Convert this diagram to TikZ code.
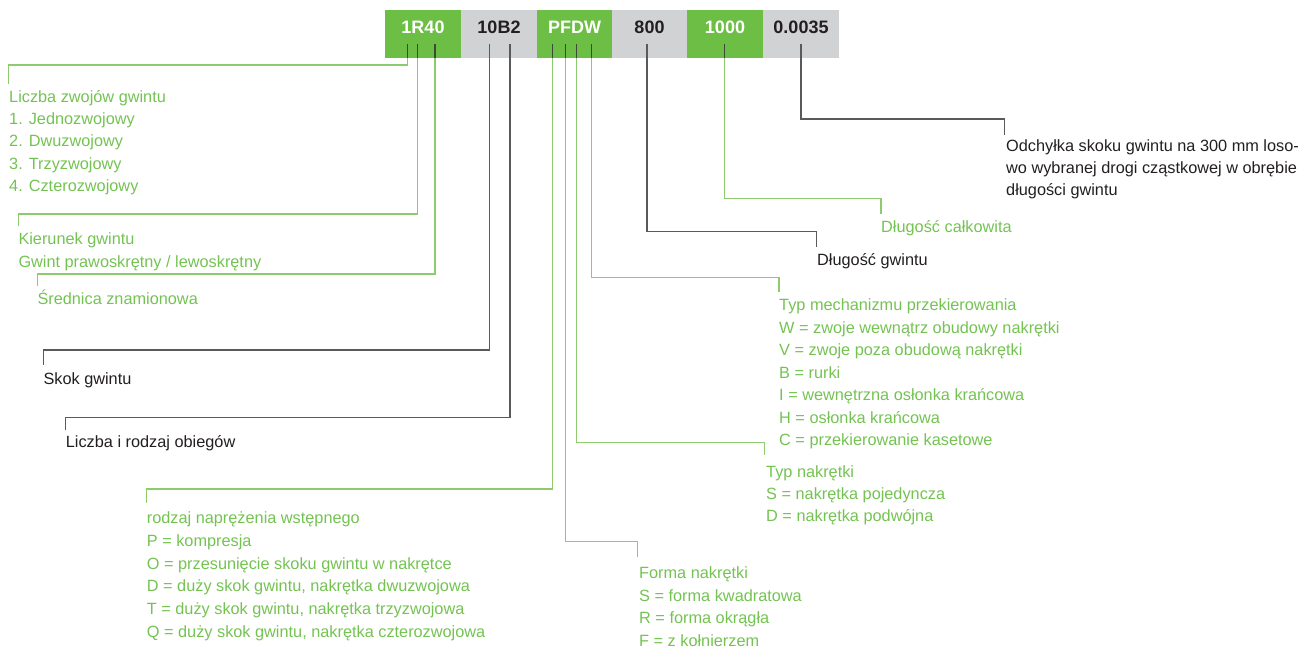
\documentclass[tikz,border=0pt]{standalone}
\usepackage{fontspec}
\setmainfont{Liberation Sans}
\definecolor{boxgreen}{HTML}{6CBE45}
\definecolor{boxgray}{HTML}{D1D2D4}
\definecolor{txtgreen}{HTML}{74C352}
\definecolor{linegreen}{HTML}{8DCB6E}
\definecolor{txtdark}{HTML}{231F20}
\definecolor{linegray}{HTML}{5A5A5A}
\definecolor{tickdark}{HTML}{3A4A35}
\newcommand\labellines[6]{%
  \foreach \t [count=\i] in {#6} {\node[#1] (#2-\i) at (#3, {#4+(\i-1)*#5}) {\t};}}
\begin{document}
\begin{tikzpicture}[x=1pt,y=-1pt,
  hbox/.style={rectangle, inner sep=0pt, minimum width=76pt, text height=23pt, text depth=25pt, anchor=north, font=\fontsize{18}{18}\selectfont\bfseries},
  gbox/.style={hbox, fill=boxgreen, text=white},
  ybox/.style={hbox, fill=boxgray, text=txtdark},
  lbl/.style={inner sep=0pt, anchor=base west, font=\fontsize{16.3}{16.3}\selectfont},
  glbl/.style={lbl, text=txtgreen},
  dlbl/.style={lbl, text=txtdark},
  gline/.style={draw=linegreen, line width=1.3pt},
  dline/.style={draw=linegray, line width=1.3pt},
  inbox/.style={draw=tickdark, line width=1.3pt}]
\useasboundingbox (0,0) rectangle (1311,647);

% header boxes
\node[gbox] (b1) at (423,10) {1R40};
\node[ybox] (b2) at (499,10) {10B2};
\node[gbox] (b3) at (574.5,10) {PFDW};
\node[ybox] (b4) at (649.5,10) {800};
\node[gbox] (b5) at (725,10) {1000};
\node[ybox] (b6) at (801,10) {0.0035};

% tick start points
\coordinate (t1) at (407.5,44);
\coordinate (t2) at (417.3,44);
\coordinate (t3) at (435,44);
\coordinate (t4) at (489.5,44);
\coordinate (t5) at (510,44);
\coordinate (t6) at (552.7,44);
\coordinate (t7) at (565.7,44);
\coordinate (t8) at (576.7,44);
\coordinate (t9) at (591.7,44);
\coordinate (t10) at (647,44);
\coordinate (t11) at (724.3,44);
\coordinate (t12) at (801,44);

% corners and ends
\coordinate (c1) at (8.5,65);     \coordinate (e1) at (8.5,84);
\coordinate (c2) at (18.3,214);   \coordinate (e2) at (18.3,226);
\coordinate (c3) at (37.3,274);   \coordinate (e3) at (37.3,286);
\coordinate (c4) at (43.3,350);   \coordinate (e4) at (43.3,365);
\coordinate (c5) at (65.7,417.3); \coordinate (e5) at (65.7,430);
\coordinate (c6) at (146.7,489);  \coordinate (e6) at (146.7,503);
\coordinate (c7) at (637.7,541.7);\coordinate (e7) at (637.7,556.7);
\coordinate (c8) at (764.7,442.3);\coordinate (e8) at (764.7,455);
\coordinate (c9) at (779,277.7);  \coordinate (e9) at (779,291.7);
\coordinate (c10) at (816.7,231.5);\coordinate (e10) at (816.7,247);
\coordinate (c11) at (881,198.7); \coordinate (e11) at (881,214);
\coordinate (c12) at (1004.3,119);\coordinate (e12) at (1004.3,135);

% connectors
\draw[gline] (t1) |- (c1) -- (e1);
\draw[gline] (t2) |- (c2) -- (e2);
\draw[gline] (t3) |- (c3) -- (e3);
\draw[dline] (t4) |- (c4) -- (e4);
\draw[dline] (t5) |- (c5) -- (e5);
\draw[gline] (t6) |- (c6) -- (e6);
\draw[gline] (t7) |- (c7) -- (e7);
\draw[gline] (t8) |- (c8) -- (e8);
\draw[gline] (t9) |- (c9) -- (e9);
\draw[dline] (t10) |- (c10) -- (e10);
\draw[gline] (t11) |- (c11) -- (e11);
\draw[dline] (t12) |- (c12) -- (e12);

% dark parts of ticks inside green boxes
\draw[inbox] (t1) -- (t1 |- b1.south);
\draw[inbox] (t2) -- (t2 |- b1.south);
\draw[inbox] (t3) -- (t3 |- b1.south);
\draw[inbox] (t6) -- (t6 |- b3.south);
\draw[inbox] (t7) -- (t7 |- b3.south);
\draw[inbox] (t8) -- (t8 |- b3.south);
\draw[inbox] (t9) -- (t9 |- b3.south);
\draw[inbox] (t11) -- (t11 |- b5.south);

% labels
\labellines{glbl}{la}{9}{102.2}{22.3}{Liczba zwojów gwintu, 1. Jednozwojowy, 2. Dwuzwojowy, 3. Trzyzwojowy, 4. Czterozwojowy}
\labellines{glbl}{lb}{18.3}{244.8}{22.4}{Kierunek gwintu, Gwint prawoskrętny / lewoskrętny}
\node[glbl] (lc) at (37.3,304) {Średnica znamionowa};
\node[dlbl] (ld) at (43.3,384.4) {Skok gwintu};
\node[dlbl] (le) at (65.7,447.8) {Liczba i rodzaj obiegów};
\labellines{glbl}{lf}{146.7}{523.8}{22.7}{rodzaj naprężenia wstępnego, P = kompresja, O = przesunięcie skoku gwintu w nakrętce, {D = duży skok gwintu, nakrętka dwuzwojowa}, {T = duży skok gwintu, nakrętka trzyzwojowa}, {Q = duży skok gwintu, nakrętka czterozwojowa}}
\labellines{glbl}{lg}{639}{578.8}{22.4}{Forma nakrętki, S = forma kwadratowa, R = forma okrągła, F = z kołnierzem}
\labellines{glbl}{lh}{766}{477.2}{22.3}{Typ nakrętki, S = nakrętka pojedyncza, D = nakrętka podwójna}
\labellines{glbl}{li}{779}{310.5}{22.5}{Typ mechanizmu przekierowania, W = zwoje wewnątrz obudowy nakrętki, V = zwoje poza obudową nakrętki, B = rurki, I = wewnętrzna osłonka krańcowa, H = osłonka krańcowa, C = przekierowanie kasetowe}
\node[dlbl] (lj) at (817,265.3) {Długość gwintu};
\node[glbl] (lk) at (881,232) {Długość całkowita};
\labellines{dlbl}{ll}{1006}{152}{21.7}{Odchyłka skoku gwintu na 300 mm loso-, wo wybranej drogi cząstkowej w obrębie, długości gwintu}
\end{tikzpicture}
\end{document}
